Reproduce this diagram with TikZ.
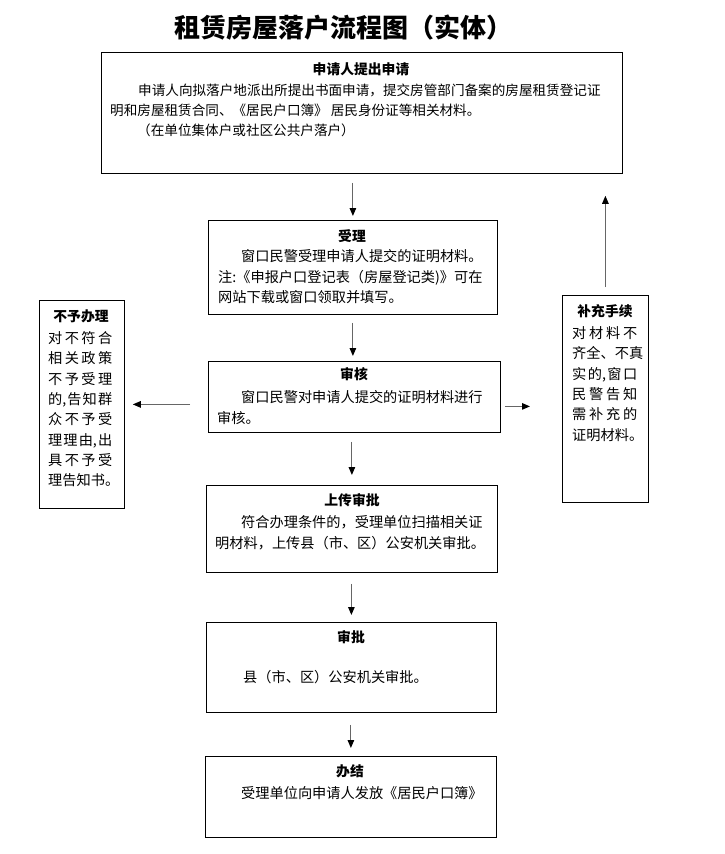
\documentclass[tikz,border=0pt]{standalone}
\usepackage{fontspec}
\setmainfont{Noto Sans CJK SC}
\usetikzlibrary{arrows.meta,calc}
\begin{document}
\begin{tikzpicture}[x=1pt,y=-1pt,
  box/.style={draw=black,line width=0.8pt,anchor=north west,inner sep=0pt},
  txt/.style={anchor=north west,inner sep=0pt,align=left,font=\fontsize{14.2}{20.3}\selectfont},
  head/.style={anchor=center,inner sep=0pt,font=\fontsize{13.8}{16}\selectfont\bfseries},
  arr/.style={draw=black!60,line width=1.1pt,-{Triangle[length=8pt,width=6.5pt,color=black]}}]
\useasboundingbox (0,0) rectangle (725,854);
\fill[white] (0,0) rectangle (725,854);
% title
\node[inner sep=0pt,font=\fontsize{26}{26}\selectfont\bfseries] (title) at (343,28) {租赁房屋落户流程图（实体）};
% boxes
\node[box,minimum width=521pt,minimum height=121pt] (b1) at (101,52) {};
\node[box,minimum width=289pt,minimum height=94pt] (b2) at (208,220) {};
\node[box,minimum width=292pt,minimum height=71pt] (b3) at (208,361) {};
\node[box,minimum width=291pt,minimum height=87pt] (b4) at (206,485) {};
\node[box,minimum width=290pt,minimum height=90pt] (b5) at (206,622) {};
\node[box,minimum width=291pt,minimum height=81pt] (b6) at (205,756) {};
\node[box,minimum width=85pt,minimum height=208pt] (lb) at (39,300) {};
\node[box,minimum width=86pt,minimum height=207pt] (rb) at (562,295) {};
% box texts
\node[head] (h1) at (361,69) {申请人提出申请};
\node[txt,font=\fontsize{13.6}{20.3}\selectfont] (t1) at (110,83.5) {\hspace{28pt}申请人向拟落户地派出所提出书面申请，提交房管部门备案的房屋租赁登记证\\明和房屋租赁合同、《居民户口簿》 居民身份证等相关材料。\\\hspace{27pt}（在单位集体户或社区公共户落户）};
\node[head] (h2) at (352,236) {受理};
\node[txt] (t2) at (218,249.5) {\hspace{23pt}窗口民警受理申请人提交的证明材料。\\注:《申报户口登记表（房屋登记类)》可在\\网站下载或窗口领取并填写。};
\node[head] (h3) at (354,374) {审核};
\node[txt] (t3) at (217,390.5) {\hspace{24pt}窗口民警对申请人提交的证明材料进行\\审核。};
\node[head] (h4) at (352,500) {上传审批};
\node[txt] (t4) at (215,515.5) {\hspace{26pt}符合办理条件的，受理单位扫描相关证\\明材料，上传县（市、区）公安机关审批。};
\node[head] (h5) at (351,637) {审批};
\node[txt] (t5) at (243,670.5) {县（市、区）公安机关审批。};
\node[head] (h6) at (350,771) {办结};
\node[txt] (t6) at (241,786.5) {受理单位向申请人发放《居民户口簿》};
\node[head] (hl) at (81,316) {不予办理};
\node[txt] (tl) at (48,331.5) {\makebox[64pt][s]{对\hfill 不\hfill 符\hfill 合}\\\makebox[64pt][s]{相\hfill 关\hfill 政\hfill 策}\\\makebox[64pt][s]{不\hfill 予\hfill 受\hfill 理}\\\makebox[64pt][s]{的,\hfill 告\hfill 知\hfill 群}\\\makebox[64pt][s]{众\hfill 不\hfill 予\hfill 受}\\\makebox[64pt][s]{理\hfill 理\hfill 由,\hfill 出}\\\makebox[64pt][s]{具\hfill 不\hfill 予\hfill 受}\\理告知书。};
\node[head] (hr) at (605,311) {补充手续};
\node[txt] (tr) at (572,326.5) {\makebox[65pt][s]{对\hfill 材\hfill 料\hfill 不}\\齐全、不真\\\makebox[65pt][s]{实\hfill 的,\hfill 窗\hfill 口}\\\makebox[65pt][s]{民\hfill 警\hfill 告\hfill 知}\\\makebox[65pt][s]{需\hfill 补\hfill 充\hfill 的}\\证明材料。};
% arrows
\draw[arr,shorten <=9pt,shorten >=4pt] (b1.south -| b2.north) -- (b2.north);
\draw[arr,shorten <=8pt,shorten >=5pt] (b2.south) -- (b2.south |- b3.north);
\draw[arr,shorten <=9pt,shorten >=10pt] (b3.south -| b4.north) -- (b4.north);
\draw[arr,shorten <=11pt,shorten >=7pt] (b4.south -| b5.north) -- (b5.north);
\draw[arr,shorten <=12pt,shorten >=8pt] (b5.south -| b6.north) -- (b6.north);
\draw[arr,shorten <=18pt,shorten >=8pt] (b3.west |- lb.east) -- (lb.east);
\coordinate (ra) at ($(b3.east)+(0,9.5)$);
\draw[arr,shorten <=4pt,shorten >=32pt] (ra) -- (ra -| rb.west);
\draw[arr,shorten <=8pt,shorten >=22pt] (rb.north) -- (rb.north |- b1.south);
\end{tikzpicture}
\end{document}
